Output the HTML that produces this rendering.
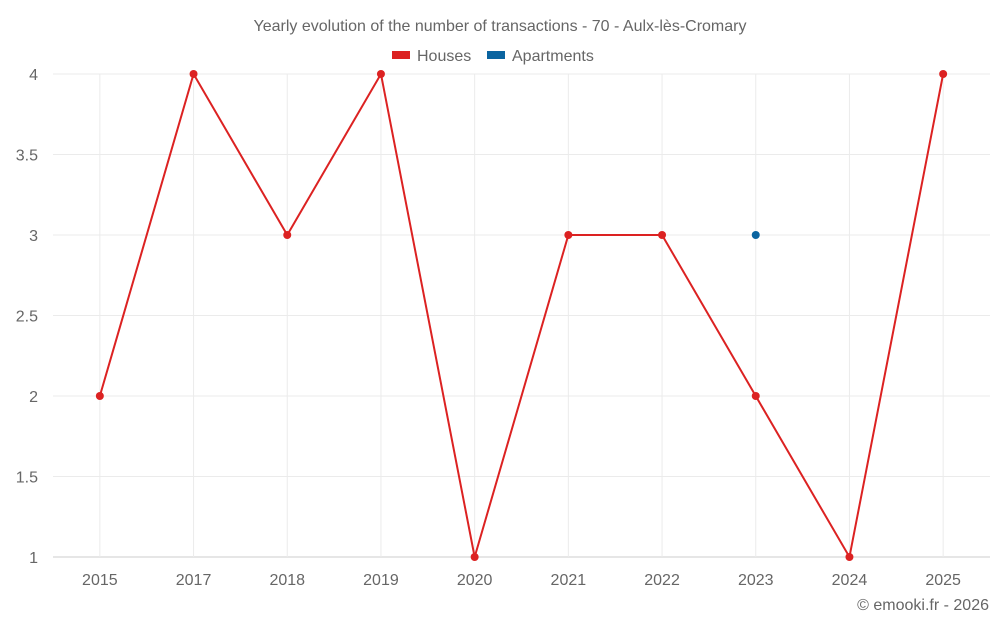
<!DOCTYPE html>
<html><head><meta charset="utf-8"><style>
body{margin:0;background:#fff;font-family:"Liberation Sans",sans-serif}
svg text{font-family:"Liberation Sans",sans-serif;fill:#666}
</style></head><body>
<svg id="c" width="1000" height="625">
<text x="500" y="31" text-anchor="middle" font-size="16">Yearly evolution of the number of transactions - 70 - Aulx-lès-Cromary</text>
<g><rect x="392" y="51" width="18" height="8" fill="#dc2222"/><text x="417" y="61" font-size="16">Houses</text></g>
<g><rect x="487" y="51" width="18" height="8" fill="#0a64a0"/><text x="512" y="61" font-size="16">Apartments</text></g>
<text x="989" y="610" text-anchor="end" font-size="16">© emooki.fr - 2026</text>
<g id="grid"></g><g id="axes"></g><g id="marks"></g>
</svg>
<script>
const categories=["2015","2017","2018","2019","2020","2021","2022","2023","2024","2025"];
const houses=[2,4,3,4,1,3,3,2,1,4];
const apartments=[null,null,null,null,null,null,null,3,null,null];
const yTicks=[1,1.5,2,2.5,3,3.5,4];
const L=53,R=990,T=74,B=557,ymin=1,ymax=4;
const bw=(R-L)/categories.length;
const x=i=>L+bw*(i+0.5);
const y=v=>B-(v-ymin)/(ymax-ymin)*(B-T);
const NS="http://www.w3.org/2000/svg";
function mk(t,a,p){const e=document.createElementNS(NS,t);for(const k in a)e.setAttribute(k,a[k]);p.appendChild(e);return e;}
const g=document.getElementById('grid'),ax=document.getElementById('axes'),m=document.getElementById('marks');
yTicks.forEach(v=>{
 const l=mk('line',{x1:L,x2:R,y1:y(v),y2:y(v),stroke:v==1?'#ccc':'#ebebeb'},g);
 
 
 const t=mk('text',{x:38,y:y(v)+6,'text-anchor':'end','font-size':16},ax);t.textContent=v;
 
 
});
categories.forEach((c,i)=>{
 const l=mk('line',{x1:x(i),x2:x(i),y1:T,y2:B,stroke:'#ebebeb'},g);
 
 
 const t=mk('text',{x:x(i),y:585,'text-anchor':'middle','font-size':16},ax);t.textContent=c;
 
 
});
const pl=mk('polyline',{points:houses.map((v,i)=>x(i)+','+y(v)).join(' '),fill:'none',stroke:'#dc2222','stroke-width':2},m);


houses.forEach((v,i)=>{const c=mk('circle',{cx:x(i),cy:y(v),r:4,fill:'#dc2222'},m);
 
 });
apartments.forEach((v,i)=>{if(v==null)return;const c=mk('circle',{cx:x(i),cy:y(v),r:4,fill:'#0a64a0'},m);
 
 });
</script>
</body></html>
